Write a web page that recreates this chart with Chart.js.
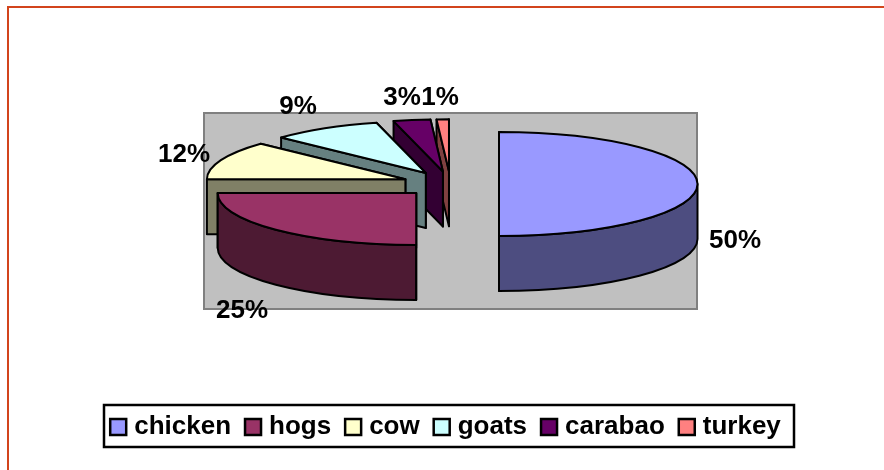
<!DOCTYPE html>
<html>
<head>
<meta charset="utf-8">
<title>Livestock share</title>
<script src="https://cdn.jsdelivr.net/npm/chart.js@4"></script>
<style>
    html, body { margin: 0; padding: 0; background: #fff; }
    #wrap { width: 884px; height: 470px; position: relative; }
</style>
</head>
<body>
<div id="wrap"><canvas id="chart" width="884" height="470"></canvas></div>
<script>
const categories = ['chicken', 'hogs', 'cow', 'goats', 'carabao', 'turkey'];
const shares = [50, 25, 12, 9, 3, 1];
const topColors = ['#9999ff', '#993366', '#ffffcc', '#ccffff', '#660066', '#ff8080'];
const sideColors = ['#4d4d80', '#4d1a33', '#808066', '#668080', '#330033', '#804040'];
// centre of each % label, placed by hand like in the original
const labelX = [735, 242, 184, 298, 402, 440];
const labelY = [241, 311, 155, 107, 98, 98];

const FONT = 'bold 26px "Liberation Sans", Arial, sans-serif';
const pie = { cx: 450.5, cy: 184, rx: 198.5, ry: 52, depth: 55, explode: 48.5 };

// Flattened 3D look: the pie controller works out the angles, this draws them squashed
function sliceCenter(arc) {
    const mid = (arc.startAngle + arc.endAngle) / 2;
    const squash = pie.ry / arc.outerRadius;
    return {
        x: pie.cx + Math.cos(mid) * arc.options.offset,
        y: pie.cy + Math.sin(mid) * arc.options.offset * squash
    };
}

function drawSlice(ctx, arc, index) {
    const c = sliceCenter(arc);
    const a0 = arc.startAngle;
    const a1 = arc.endAngle;
    const rx = arc.outerRadius;
    const ry = pie.ry;
    const d = pie.depth;

    function wall(angle) {
        const px = c.x + Math.cos(angle) * rx;
        const py = c.y + Math.sin(angle) * ry;
        ctx.beginPath();
        ctx.moveTo(c.x, c.y);
        ctx.lineTo(px, py);
        ctx.lineTo(px, py + d);
        ctx.lineTo(c.x, c.y + d);
        ctx.closePath();
        ctx.fill();
        ctx.stroke();
    }

    ctx.fillStyle = sideColors[index];
    wall(a1);

    // rim, only the part that faces the viewer (canvas angles 0 to PI)
    const twoPi = Math.PI * 2;
    for (const k of [0, 1]) {
        const from = Math.max(a0, k * twoPi);
        const to = Math.min(a1, k * twoPi + Math.PI);
        if (to > from) {
            ctx.beginPath();
            ctx.ellipse(c.x, c.y, rx, ry, 0, from, to);
            ctx.ellipse(c.x, c.y + d, rx, ry, 0, to, from, true);
            ctx.closePath();
            ctx.fill();
            ctx.stroke();
        }
    }

    wall(a0);

    ctx.fillStyle = topColors[index];
    ctx.beginPath();
    ctx.moveTo(c.x, c.y);
    ctx.ellipse(c.x, c.y, rx, ry, 0, a0, a1);
    ctx.closePath();
    ctx.fill();
    ctx.stroke();
}

const pie3d = {
    id: 'pie3d',
    beforeDraw(chart) {
        const ctx = chart.ctx;
        ctx.save();
        // outer frame
        ctx.strokeStyle = '#d2441c';
        ctx.lineWidth = 2;
        ctx.beginPath();
        ctx.moveTo(8, 470);
        ctx.lineTo(8, 7);
        ctx.lineTo(884, 7);
        ctx.stroke();
        // plot area
        ctx.fillStyle = '#c0c0c0';
        ctx.strokeStyle = '#808080';
        ctx.fillRect(204, 113, 493, 196);
        ctx.strokeRect(204, 113, 493, 196);
        // legend box
        ctx.fillStyle = '#fff';
        ctx.strokeStyle = '#000';
        ctx.lineWidth = 2.5;
        ctx.fillRect(104, 405, 690, 42);
        ctx.strokeRect(104, 405, 690, 42);
        ctx.restore();
    },
    beforeDatasetDraw(chart, args) {
        const ctx = chart.ctx;
        const arcs = args.meta.data;
        ctx.save();
        ctx.strokeStyle = '#000';
        ctx.lineWidth = 2;
        ctx.lineJoin = 'round';
        // back slices first so the nearer ones cover them
        for (let i = arcs.length - 1; i >= 0; i--) {
            drawSlice(ctx, arcs[i], i);
        }
        ctx.fillStyle = '#000';
        ctx.font = FONT;
        ctx.textAlign = 'center';
        ctx.textBaseline = 'middle';
        shares.forEach((v, i) => ctx.fillText(v + '%', labelX[i], labelY[i]));
        ctx.restore();
        return false;
    }
};

new Chart(document.getElementById('chart'), {
    type: 'pie',
    data: {
        labels: categories,
        datasets: [{
            data: shares,
            backgroundColor: topColors,
            borderColor: '#000',
            borderWidth: 2.5,
            offset: pie.explode
        }]
    },
    options: {
        responsive: false,
        animation: false,
        radius: pie.rx,
        layout: { padding: { left: 12, bottom: 20 } },
        plugins: {
            tooltip: { enabled: false },
            legend: {
                position: 'bottom',
                labels: {
                    color: '#000',
                    font: { family: '"Liberation Sans", Arial, sans-serif', size: 26, weight: 'bold' },
                    usePointStyle: true,
                    pointStyle: 'rect',
                    boxWidth: 6,
                    boxHeight: 16,
                    padding: 19
                }
            }
        }
    },
    plugins: [pie3d]
});
</script>
</body>
</html>
